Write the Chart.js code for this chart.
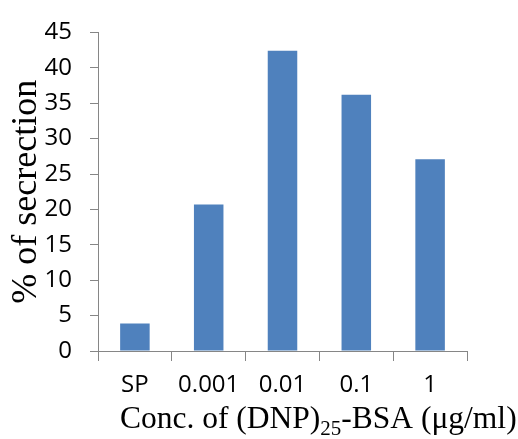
<!DOCTYPE html>
<html>
<head>
<meta charset="utf-8">
<script src="https://cdn.jsdelivr.net/npm/chart.js@4.4.1/dist/chart.umd.min.js"></script>
<style>
  html, body { margin: 0; padding: 0; background: #ffffff; }
  #marco { width: 518px; height: 439px; }
</style>
</head>
<body>
<div id="marco"><canvas id="graficoSecrecion"></canvas></div>
<script>
// datos
const categorias = ["SP", "0.001", "0.01", "0.1", "1"];
const porcentajes = [3.9, 20.7, 42.4, 36.2, 27.1];
const marcasY = [0, 5, 10, 15, 20, 25, 30, 35, 40, 45];

const colorBarra = "#4F81BD";
const colorEje = "#868686";

// titulo del eje x con subindice, lo dibujamos a mano
const tituloEjeX = {
  id: "tituloEjeX",
  afterDraw(chart) {
    const ctx = chart.ctx;
    const base = 428;
    let x = 120;
    ctx.save();
    ctx.fillStyle = "#000000";
    ctx.textBaseline = "alphabetic";
    ctx.textAlign = "left";
    ctx.font = "31.5px 'Liberation Serif', 'Times New Roman', serif";
    let parte1 = "Conc. of (DNP)";
    ctx.fillText(parte1, x, base);
    x += ctx.measureText(parte1).width;
    ctx.font = "21px 'Liberation Serif', 'Times New Roman', serif";
    ctx.fillText("25", x, base + 7);
    x += ctx.measureText("25").width;
    ctx.font = "31.5px 'Liberation Serif', 'Times New Roman', serif";
    ctx.fillText("-BSA (\u03BCg/ml)", x, base);
    ctx.restore();
  }
};

let ctxBarras = document.getElementById("graficoSecrecion");
let graficoSecrecion = new Chart(ctxBarras, {
  type: "bar",
  data: {
    labels: categorias,
    datasets: [{
      data: porcentajes,
      backgroundColor: colorBarra,
      borderWidth: 0,
      barPercentage: 0.4,
      categoryPercentage: 1.0
    }]
  },
  options: {
    responsive: true,
    maintainAspectRatio: false,
    animation: false,
    layout: { padding: { top: 17, right: 51, left: 0, bottom: 0 } },
    plugins: {
      legend: { display: false },
      tooltip: { enabled: false }
    },
    scales: {
      x: {
        afterFit: function (s) { s.height = 88; },
        grid: {
          offset: true,
          drawOnChartArea: false,
          drawTicks: true,
          tickLength: 10,
          color: colorEje,
          lineWidth: 1
        },
        border: { color: colorEje, width: 1 },
        ticks: {
          color: "#000000",
          padding: 10,
          font: { family: "'Open Sans', sans-serif", size: 24 }
        }
      },
      y: {
        min: 0,
        max: 45,
        afterFit: function (s) { s.width = 98; },
        afterBuildTicks: function (s) { s.ticks = marcasY.map(v => ({ value: v })); },
        grid: {
          drawOnChartArea: false,
          drawTicks: true,
          tickLength: 8,
          color: colorEje,
          lineWidth: 1
        },
        border: { color: colorEje, width: 1 },
        ticks: {
          color: "#000000",
          padding: 18,
          font: { family: "'Open Sans', sans-serif", size: 24 }
        },
        title: {
          display: true,
          text: "% of secrection",
          color: "#000000",
          padding: { top: 5, bottom: 0 },
          font: { family: "'Liberation Serif', 'Times New Roman', serif", size: 36 }
        }
      }
    }
  },
  plugins: [tituloEjeX]
});
</script>
</body>
</html>
